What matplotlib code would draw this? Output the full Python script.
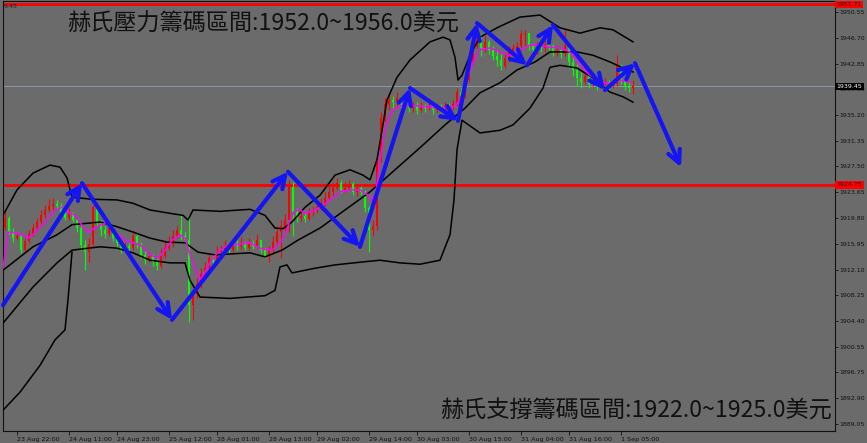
import numpy as np
import matplotlib
matplotlib.use('Agg')
import matplotlib.pyplot as plt

plt.rcParams['font.family'] = ['Noto Sans CJK TC', 'DejaVu Sans']

# hourly candles, XAUUSD H1
first_open = 1918.4
close = np.array([
    1919.8, 1917.7, 1916.8, 1917.1, 1915.0, 1916.4, 1917.4, 1918.3, 1919.2, 1920.2,
    1921.0, 1921.6, 1921.9, 1921.6, 1920.4, 1919.8, 1920.5, 1919.5, 1918.3, 1915.8,
    1914.7, 1915.9, 1921.4, 1919.2, 1918.0, 1917.4, 1918.3, 1916.8, 1916.1, 1915.0,
    1915.6, 1915.3, 1917.1, 1915.9, 1914.3, 1913.5, 1914.1, 1913.2, 1912.6, 1914.1,
    1915.3, 1915.9, 1917.1, 1918.0, 1917.1, 1916.5, 1906.8, 1908.5, 1909.9, 1911.4,
    1912.3, 1913.8, 1913.2, 1914.7, 1915.0, 1915.6, 1915.0, 1915.9, 1915.6, 1915.9,
    1915.3, 1915.9, 1915.6, 1916.5, 1915.0, 1914.1, 1915.0, 1916.2, 1917.7, 1918.6,
    1919.5, 1924.4, 1920.7, 1919.8, 1920.1, 1919.6, 1920.7, 1921.0, 1921.4, 1922.0,
    1922.8, 1923.7, 1924.3, 1925.0, 1924.0, 1924.3, 1924.9, 1923.7, 1924.3, 1923.7,
    1921.3, 1918.0, 1918.6, 1928.5, 1934.7, 1936.8, 1937.4, 1937.1, 1937.7, 1936.8,
    1937.1, 1936.2, 1936.5, 1935.9, 1936.5, 1936.2, 1936.5, 1935.9, 1936.4, 1936.2,
    1936.5, 1936.4, 1936.8, 1938.6, 1938.0, 1940.4, 1943.1, 1945.5, 1947.0, 1945.2,
    1946.1, 1944.9, 1944.0, 1943.4, 1942.5, 1943.7, 1944.6, 1945.2, 1945.5, 1947.3,
    1947.4, 1945.5, 1944.9, 1945.5, 1945.2, 1945.8, 1945.5, 1944.6, 1944.9, 1944.3,
    1945.6, 1943.1, 1941.9, 1940.7, 1940.1, 1941.0, 1939.8, 1940.4, 1939.5, 1939.8,
    1940.1, 1939.5, 1939.8, 1942.5, 1940.4, 1939.5, 1939.2, 1939.45])
high = np.array([
    1920.7, 1920.1, 1918.3, 1917.7, 1917.3, 1916.8, 1918.0, 1918.9, 1919.8, 1921.0,
    1921.7, 1922.6, 1922.8, 1922.5, 1922.0, 1921.0, 1921.3, 1920.7, 1919.8, 1918.6,
    1916.5, 1916.8, 1921.7, 1921.9, 1919.5, 1918.6, 1918.9, 1918.6, 1917.3, 1916.5,
    1916.2, 1916.1, 1918.0, 1917.4, 1916.2, 1915.0, 1914.7, 1914.4, 1913.8, 1915.3,
    1916.5, 1917.1, 1918.0, 1918.6, 1920.2, 1917.7, 1920.2, 1909.0, 1910.8, 1912.3,
    1913.2, 1914.4, 1914.3, 1915.6, 1915.8, 1916.5, 1916.1, 1916.8, 1916.5, 1917.0,
    1916.2, 1916.8, 1916.5, 1917.4, 1916.2, 1915.3, 1915.6, 1917.1, 1918.6, 1919.5,
    1920.4, 1925.5, 1925.2, 1921.3, 1921.0, 1920.7, 1921.3, 1921.6, 1922.0, 1922.8,
    1923.7, 1924.6, 1925.2, 1925.8, 1925.5, 1925.2, 1925.5, 1925.2, 1924.9, 1924.6,
    1924.0, 1921.6, 1919.5, 1929.1, 1935.6, 1937.7, 1938.3, 1938.0, 1938.6, 1938.0,
    1937.7, 1937.4, 1937.1, 1937.1, 1937.1, 1936.8, 1937.1, 1936.8, 1937.0, 1936.8,
    1937.1, 1937.0, 1937.4, 1939.2, 1939.2, 1941.0, 1943.7, 1946.4, 1947.9, 1947.3,
    1947.0, 1946.4, 1945.5, 1944.9, 1944.3, 1944.6, 1945.5, 1945.8, 1946.1, 1947.9,
    1947.9, 1947.0, 1945.8, 1946.1, 1945.8, 1946.4, 1946.1, 1945.8, 1945.5, 1945.2,
    1947.9, 1945.8, 1943.7, 1942.8, 1941.6, 1941.6, 1941.3, 1941.0, 1940.7, 1940.4,
    1940.7, 1940.4, 1940.4, 1944.1, 1942.8, 1940.7, 1940.1, 1940.4])
low = np.array([
    1918.0, 1917.4, 1916.2, 1916.5, 1914.6, 1914.7, 1916.1, 1917.1, 1918.0, 1918.9,
    1919.8, 1920.7, 1921.0, 1921.1, 1920.1, 1919.5, 1919.5, 1919.2, 1917.7, 1915.0,
    1912.0, 1913.2, 1915.6, 1918.6, 1917.1, 1916.8, 1917.1, 1916.4, 1915.5, 1914.6,
    1914.7, 1914.4, 1915.0, 1915.3, 1913.8, 1912.9, 1913.2, 1912.6, 1912.0, 1912.3,
    1913.8, 1915.0, 1915.5, 1916.8, 1916.5, 1915.9, 1904.3, 1904.6, 1907.8, 1909.3,
    1911.1, 1912.0, 1912.8, 1912.9, 1914.1, 1914.7, 1914.6, 1914.7, 1915.0, 1915.2,
    1915.0, 1915.0, 1915.2, 1915.3, 1914.6, 1913.8, 1913.2, 1914.4, 1915.9, 1913.8,
    1917.7, 1917.7, 1917.1, 1919.2, 1919.3, 1919.2, 1919.5, 1920.1, 1920.5, 1921.0,
    1921.6, 1922.5, 1923.1, 1924.0, 1923.5, 1923.7, 1924.0, 1923.2, 1923.1, 1923.2,
    1920.7, 1914.7, 1917.1, 1918.0, 1928.2, 1934.1, 1935.9, 1936.2, 1936.5, 1936.2,
    1936.2, 1935.6, 1935.6, 1935.3, 1935.6, 1935.6, 1935.9, 1935.3, 1935.6, 1935.6,
    1935.6, 1935.9, 1935.9, 1936.5, 1937.4, 1937.7, 1940.1, 1942.8, 1945.2, 1944.0,
    1944.6, 1944.3, 1943.4, 1942.5, 1941.9, 1942.2, 1943.1, 1944.0, 1944.6, 1944.9,
    1945.5, 1944.9, 1944.3, 1944.3, 1944.6, 1944.6, 1944.9, 1944.0, 1944.0, 1943.7,
    1944.0, 1942.2, 1941.0, 1939.5, 1939.2, 1939.8, 1939.2, 1939.5, 1938.9, 1939.2,
    1939.5, 1938.9, 1939.2, 1939.5, 1939.8, 1938.9, 1938.6, 1938.3])

# bollinger lines (bar index, price)
upper_x = [-0.5, 3, 7, 11.25, 13.75, 15.5, 16.75, 21.75, 28, 32, 36.25, 41.25, 44.5,
           45.75, 47, 53.75, 61.25, 65, 67.5, 69.5, 71.75, 75, 78.75, 82.5, 86.25,
           89.5, 91.25, 93, 94.25, 95.5, 98, 101.25, 106.25, 109.5, 111.25, 112.5,
           113.25, 114.25, 116.25, 118.75, 123, 128.75, 133.75, 138.75, 143.75,
           148.75, 152, 157]
upper_p = [1920.2, 1924.0, 1926.5, 1927.7, 1927.4, 1925.8, 1922.9, 1922.6, 1922.5,
           1922.0, 1921.0, 1920.5, 1920.2, 1919.5, 1921.0, 1920.8, 1921.1, 1920.2,
           1918.3, 1918.2, 1919.2, 1921.4, 1923.2, 1926.2, 1927.0, 1926.2, 1925.5,
           1928.5, 1932.9, 1937.4, 1940.8, 1943.4, 1946.1, 1946.8, 1946.4, 1943.8,
           1940.4, 1941.1, 1944.1, 1946.8, 1948.2, 1949.8, 1950.1, 1948.2, 1947.4,
           1948.2, 1947.9, 1946.1]
mid_x = [-0.5, 7, 13, 16.75, 23.75, 28, 32, 36.25, 40.5, 45, 48.25, 52.5, 61.25, 65,
         69.25, 73.25, 78.75, 85, 91.25, 97.5, 103.75, 110, 115, 118.75, 123.75, 128,
         132.5, 136.25, 143, 147, 151.25, 154.5, 157]
mid_p = [1912.0, 1915.5, 1917.3, 1918.8, 1919.2, 1918.5, 1917.7, 1916.8, 1916.2,
         1916.1, 1914.7, 1914.3, 1914.6, 1914.0, 1915.0, 1916.5, 1918.3, 1921.0,
         1923.7, 1927.0, 1930.3, 1933.7, 1936.2, 1938.5, 1940.0, 1941.9, 1943.1,
         1944.6, 1944.6, 1944.1, 1943.1, 1942.2, 1941.6]
lower_x = [-0.5, 7, 13, 16.75, 23.75, 28, 32, 36.25, 41.25, 45, 46.25, 48.75, 56.25,
           65, 67.5, 68.75, 70.5, 71.75, 77.5, 82.5, 88.75, 93.75, 98.75, 103.75,
           108.75, 111.25, 112.25, 113, 114.25, 118.75, 123.75, 127, 131.25, 134.5,
           136.25, 138.75, 143, 147, 151.25, 154.5, 157]
lower_p = [1904.1, 1909.5, 1913.1, 1915.0, 1915.5, 1915.3, 1914.6, 1913.5, 1913.1,
           1913.1, 1910.5, 1908.0, 1907.8, 1908.2, 1909.0, 1912.5, 1912.8, 1911.6,
           1912.3, 1912.8, 1913.2, 1913.5, 1913.1, 1912.9, 1913.5, 1917.3, 1922.5,
           1930.0, 1934.4, 1932.5, 1932.9, 1933.7, 1936.2, 1939.2, 1942.3, 1942.6,
           1942.2, 1940.7, 1938.6, 1937.9, 1937.1]
outer_low_x = [-0.5, 3.75, 8.75, 12.5, 15, 15.75, 16.75]
outer_low_p = [1891.1, 1893.8, 1897.8, 1901.6, 1903.1, 1907.6, 1914.7]

# fast moving average (magenta)
ma_x = [-0.5, 0.75, 2.5, 4.25, 5.75, 7.5, 10, 12.5, 14.25, 15.75, 17.5, 19.25, 20.75,
        22.5, 23.75, 25.5, 27.5, 30, 33.75, 36.25, 38.25, 40, 41.75, 43.75, 45,
        46.25, 47.5, 48.75, 50, 51.25, 53.25, 55, 57.5, 61.25, 63.75, 65.75, 67.5,
        68.75, 70, 71.25, 72.5, 73.75, 75, 76.75, 78.75, 81.25, 83.75, 86.25, 88.75,
        90.75, 91.75, 92.75, 93.75, 95, 96.25, 97.5, 100, 103.75, 108.75, 112.5,
        113.75, 115, 116.25, 117.5, 118.75, 121.25, 123.75, 126.25, 128.75, 131.25,
        133.75, 136.25, 138.75, 141.25, 142.5, 143.75, 146.25, 148.75, 151.25,
        153.75, 156.25]
ma_p = [1912.3, 1917.7, 1917.6, 1917.3, 1916.8, 1917.6, 1919.2, 1921.0, 1921.4,
        1920.7, 1920.2, 1918.7, 1917.7, 1918.3, 1918.7, 1919.2, 1917.7, 1916.5,
        1915.8, 1914.3, 1913.8, 1915.0, 1916.5, 1917.3, 1916.8, 1914.3, 1912.3,
        1910.5, 1911.7, 1913.2, 1914.7, 1915.5, 1915.8, 1916.1, 1915.3, 1915.0,
        1915.3, 1916.1, 1917.3, 1919.5, 1921.0, 1921.0, 1920.5, 1920.8, 1921.4,
        1922.5, 1923.7, 1924.0, 1924.0, 1923.2, 1922.5, 1923.7, 1928.5, 1932.9,
        1935.2, 1936.2, 1936.7, 1936.5, 1936.2, 1936.5, 1937.4, 1939.6, 1941.9,
        1943.7, 1944.9, 1945.2, 1944.6, 1944.1, 1944.9, 1945.6, 1945.6, 1945.3,
        1945.2, 1944.6, 1943.7, 1942.6, 1941.1, 1940.1, 1939.9, 1940.4, 1940.1]

# hand-drawn zigzag forecast
zz_x = [-0.5, 19.25, 41.75, 70.75, 88.75, 101.25, 113.25, 118, 130.5, 137, 150, 157.5, 169]
zz_p = [1906.8, 1925.0, 1904.6, 1926.7, 1915.5, 1939.2, 1934.3, 1948.9, 1942.6,
        1948.6, 1938.9, 1942.9, 1927.4]

resist_level = 1951.71
support_level = 1924.75
last_price = 1939.45

price_ticks = [1950.55, 1946.70, 1942.85, 1939.00, 1935.20, 1931.35, 1927.50, 1923.65,
               1919.80, 1915.95, 1912.10, 1908.25, 1904.40, 1900.55, 1896.75, 1892.90,
               1889.05]
time_ticks = [3, 16, 28, 41, 53, 66, 78, 91, 103, 116, 129, 141, 154]
time_labels = ['23 Aug 22:00', '24 Aug 11:00', '24 Aug 23:00', '25 Aug 12:00',
               '28 Aug 01:00', '28 Aug 13:00', '29 Aug 02:00', '29 Aug 14:00',
               '30 Aug 03:00', '30 Aug 15:00', '31 Aug 04:00', '31 Aug 16:00',
               '1 Sep 05:00']

resist_text = '赫氏壓力籌碼區間:1952.0~1956.0美元'
support_text = '赫氏支撐籌碼區間:1922.0~1925.0美元'

BG = '#6b6b6b'

fig = plt.figure(figsize=(8.67, 4.43), dpi=100, facecolor=BG)
ax = fig.add_axes([3 / 867, 12 / 443, 832 / 867, 430 / 443])
ax.set_facecolor(BG)
ax.set_xlim(-0.5, 207.5)
ax.set_ylim(1888.0, 1952.2)

# horizontal levels
ax.axhline(last_price, color='#8fa2b6', lw=0.6, zorder=1)
ax.axhline(resist_level, color='#ff0000', lw=2, zorder=2)
ax.axhline(support_level, color='#ff0000', lw=2, zorder=2)

# candles
idx = np.arange(len(close))
opens = np.r_[first_open, close[:-1]]
up = close >= opens
colors = np.where(up, '#ff0000', '#00ff00')
ax.vlines(idx, low, high, colors=colors, lw=0.8, zorder=3)
body_lo = np.minimum(opens, close)
body_h = np.maximum(np.abs(close - opens), 0.12)
ax.bar(idx, body_h, bottom=body_lo, width=0.7, color=colors, linewidth=0, zorder=3)

# indicators
for xs, ps in [(upper_x, upper_p), (mid_x, mid_p), (lower_x, lower_p),
               (outer_low_x, outer_low_p)]:
    ax.plot(xs, ps, color='black', lw=1.1, zorder=4)
ax.plot(ma_x, ma_p, color='#ff00ff', lw=1.1, zorder=5)

# zigzag arrows
for k in range(len(zz_x) - 1):
    ax.annotate('', xy=(zz_x[k + 1], zz_p[k + 1]), xytext=(zz_x[k], zz_p[k]),
                arrowprops=dict(arrowstyle='->,head_length=0.9,head_width=0.45',
                                color='#1414f5', lw=3, shrinkA=0, shrinkB=0),
                zorder=6)

# text boxes
ax.text(0.077, 0.947, resist_text, transform=ax.transAxes, fontsize=16.7,
        color='#111111', ha='left', va='center', zorder=7)
ax.text(0.996, 0.047, support_text, transform=ax.transAxes, fontsize=16.7,
        color='#111111', ha='right', va='center', zorder=7)
ax.text(0.001, 0.992, '9.45', transform=ax.transAxes, fontsize=4.5,
        color='#222222', ha='left', va='top', family='DejaVu Sans')

# axes styling
for s in ax.spines.values():
    s.set_color('#111111')
    s.set_linewidth(0.8)
ax.yaxis.tick_right()
ax.set_yticks(price_ticks)
ax.set_yticklabels(['%.2f' % p for p in price_ticks])
ax.tick_params(axis='y', direction='out', length=2, width=0.6, pad=1,
               labelsize=4.5, colors='#111111')
ax.set_xticks(time_ticks)
ax.set_xticklabels(time_labels, ha='left')
ax.tick_params(axis='x', direction='out', length=3, width=0.6, pad=1,
               labelsize=4.6, colors='#111111')
for lab in ax.get_xticklabels() + ax.get_yticklabels():
    lab.set_family('DejaVu Sans')

# price tags on the right scale
tr = ax.get_yaxis_transform()
for p, txt, fc, tc in [(resist_level, '1951.71', '#ff0000', '#330000'),
                       (support_level, '1924.75', '#ff0000', '#330000'),
                       (last_price, '1939.45', '#000000', '#ffffff')]:
    ax.text(1.002, p, txt, transform=tr, fontsize=4.5, color=tc, ha='left',
            va='center', family='DejaVu Sans', clip_on=False, zorder=8,
            bbox=dict(boxstyle='square,pad=0.2', fc=fc, ec='none'))

fig.savefig('out.png', dpi=100, facecolor=BG)
